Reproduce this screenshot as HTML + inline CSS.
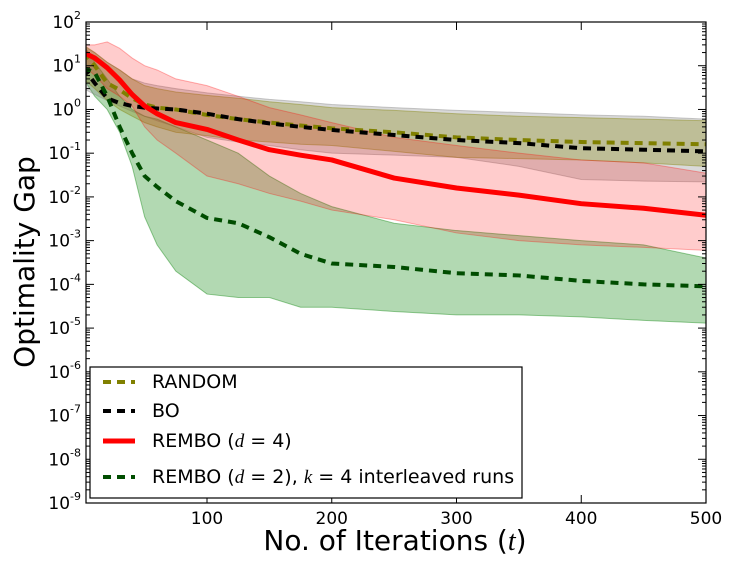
<!DOCTYPE html>
<html><head><meta charset="utf-8"><style>
body{margin:0;background:#fff;}
svg{font-family:"DejaVu Sans","Liberation Sans",sans-serif;}
</style></head><body>
<svg id="c" width="730" height="565" xmlns="http://www.w3.org/2000/svg"></svg>
<script>
// ---- data ----
const iters = [1,10,20,30,40,50,60,75,100,125,150,175,200,250,300,350,400,450,500];
const randomMean = [20,10,4,2.8,1.8,1.3,1.1,1.0,0.75,0.6,0.5,0.43,0.37,0.3,0.23,0.2,0.18,0.17,0.16];
const boMean = [9,4,1.8,1.4,1.2,1.1,1.05,1.0,0.8,0.6,0.48,0.4,0.34,0.26,0.2,0.17,0.13,0.12,0.11];
const rembo4Mean = [20,15,9,4.7,2.2,1.2,0.8,0.5,0.35,0.2,0.12,0.09,0.07,0.027,0.016,0.011,0.007,0.0055,0.0038];
const rembo2Mean = [9,7,2,0.4,0.1,0.03,0.017,0.008,0.0033,0.0025,0.0012,0.0005,0.0003,0.00025,0.00018,0.00016,0.00012,0.0001,0.00009];
const randomUpper = [30,20,12,8,5,3.5,3,2.5,2.1,1.8,1.5,1.3,1.1,0.95,0.8,0.7,0.65,0.6,0.55];
const randomLower = [5,3,1.6,1.0,0.7,0.5,0.4,0.3,0.25,0.2,0.18,0.16,0.15,0.11,0.08,0.075,0.07,0.06,0.05];
const boUpper = [28,20,12,8,5,4,3.5,3,2.4,2,1.7,1.5,1.3,1.1,0.95,0.85,0.75,0.7,0.6];
const boLower = [3,2.2,1.6,1.2,0.9,0.7,0.55,0.4,0.23,0.18,0.15,0.12,0.1,0.09,0.08,0.05,0.025,0.023,0.022];
const rembo4Upper = [30,30,35,25,15,10,8,5,3.5,2,1.1,0.75,0.5,0.23,0.15,0.1,0.07,0.06,0.035];
const rembo4Lower = [10,6,3,2,1.2,0.4,0.2,0.1,0.03,0.02,0.012,0.008,0.005,0.003,0.0015,0.001,0.0008,0.0007,0.0006];
const rembo2Upper = [30,12,5,2,1,0.7,0.6,0.4,0.2,0.1,0.03,0.012,0.006,0.0025,0.0017,0.0013,0.001,0.0008,0.0004];
const rembo2Lower = [5,2,1,0.3,0.05,0.0035,0.0008,0.0002,0.00006,0.00005,0.00005,0.00003,0.00003,0.000024,0.00002,0.00002,0.000018,0.000015,0.000013];
const yTickExp = [2,1,0,-1,-2,-3,-4,-5,-6,-7,-8,-9];
const xTicks = [100,200,300,400,500];

const NS="http://www.w3.org/2000/svg";
const svg=document.getElementById('c');
const L=86,R=706,T=22,B=503;
const X0=3,X1=500,YMIN=-9,YMAX=2;
const sx=v=>L+(v-X0)/(X1-X0)*(R-L);
const sy=v=>T+(YMAX-Math.log10(v))/(YMAX-YMIN)*(B-T);
function el(tag,attrs,parent){const e=document.createElementNS(NS,tag);for(const k in attrs)e.setAttribute(k,attrs[k]);(parent||svg).appendChild(e);return e;}

const defs=el('defs',{});
const cp=el('clipPath',{id:'clip'},defs);
el('rect',{x:L,y:T,width:R-L,height:B-T},cp);
const g=el('g',{'clip-path':'url(#clip)'});



function band(up,lo,fill,stroke,name){
  let d='M'+iters.map((x,i)=>sx(x)+','+sy(up[i])).join('L');
  for(let i=iters.length-1;i>=0;i--) d+='L'+sx(iters[i])+','+sy(lo[i]);
  const p=el('path',{d:d+'Z',fill:fill,stroke:stroke,'stroke-width':1},g);
  
  
}
function line(ys,color,dash,w,name){
  const p=el('polyline',{points:iters.map((x,i)=>sx(x)+','+sy(ys[i])).join(' '),fill:'none',stroke:color,'stroke-width':w,'stroke-dasharray':dash,'stroke-linejoin':'round'},g);
  
  
}
band(rembo2Upper,rembo2Lower,'rgba(0,128,0,0.3)','rgba(0,128,0,0.4)','rembo-d2-band');
band(boUpper,boLower,'rgba(128,128,128,0.3)','rgba(128,128,128,0.4)','bo-band');
band(randomUpper,randomLower,'rgba(128,128,0,0.3)','rgba(128,128,0,0.4)','random-band');
band(rembo4Upper,rembo4Lower,'rgba(255,0,0,0.2)','rgba(255,0,0,0.3)','rembo-d4-band');
line(randomMean,'#808000','8,6',4,'random-line');
line(boMean,'#000','8,6',4,'bo-line');
line(rembo4Mean,'#ff0000','none',5,'rembo-d4-line');
line(rembo2Mean,'#004d00','8,6',4,'rembo-d2-line');

const fr=el('rect',{x:L,y:T,width:R-L,height:B-T,fill:'none',stroke:'#000','stroke-width':1.2});



yTickExp.forEach(e=>{
  const y=sy(Math.pow(10,e));
  el('line',{x1:L,x2:L+8,y1:y,y2:y,stroke:'#000'});
  el('line',{x1:R,x2:R-8,y1:y,y2:y,stroke:'#000'});
  if(e>YMIN) for(let m=2;m<10;m++){const ym=sy(m*Math.pow(10,e-1));
    el('line',{x1:L,x2:L+4,y1:ym,y2:ym,stroke:'#000'});el('line',{x1:R,x2:R-4,y1:ym,y2:ym,stroke:'#000'});}
  const t=el('text',{x:L-5,y:y+6,'text-anchor':'end','font-size':17});
  
  
  t.textContent='10';
  const s=el('tspan',{'font-size':11,dy:-9},t);s.textContent=String(e);
});
xTicks.forEach(v=>{
  const x=sx(v);
  el('line',{x1:x,x2:x,y1:B,y2:B-8,stroke:'#000'});
  el('line',{x1:x,x2:x,y1:T,y2:T+8,stroke:'#000'});
  const t=el('text',{x:x,y:B+21,'text-anchor':'middle','font-size':17});
  
  
  t.textContent=String(v);
});
const yl=el('text',{x:34,y:262,'text-anchor':'middle','font-size':28,transform:'rotate(-90 34 262)'});


yl.textContent='Optimality Gap';
const xl=el('text',{x:395,y:550,'text-anchor':'middle','font-size':28});


xl.innerHTML='No. of Iterations (<tspan font-family="Liberation Serif" font-style="italic">t</tspan>)';

const lg=el('g',{});


el('rect',{x:90,y:367,width:432,height:131,fill:'#fff',stroke:'#000','stroke-width':1.2},lg);
const it='<tspan font-family="Liberation Serif" font-style="italic">';
const items=[['#808000','8,6',4,'RANDOM',382],['#000','8,6',4,'BO',411],['#ff0000','none',5,'REMBO ('+it+'d</tspan> = 4)',441],['#004d00','8,6',4,'REMBO ('+it+'d</tspan> = 2), '+it+'k</tspan> = 4 interleaved runs',477]];
items.forEach(x=>{
  const e=el('g',{},lg);
  
  
  el('line',{x1:103,x2:135,y1:x[4],y2:x[4],stroke:x[0],'stroke-width':x[2],'stroke-dasharray':x[1]},e);
  const t=el('text',{x:152,y:x[4]+6,'font-size':19},e);
  t.innerHTML=x[3];
});
</script>
</body></html>
